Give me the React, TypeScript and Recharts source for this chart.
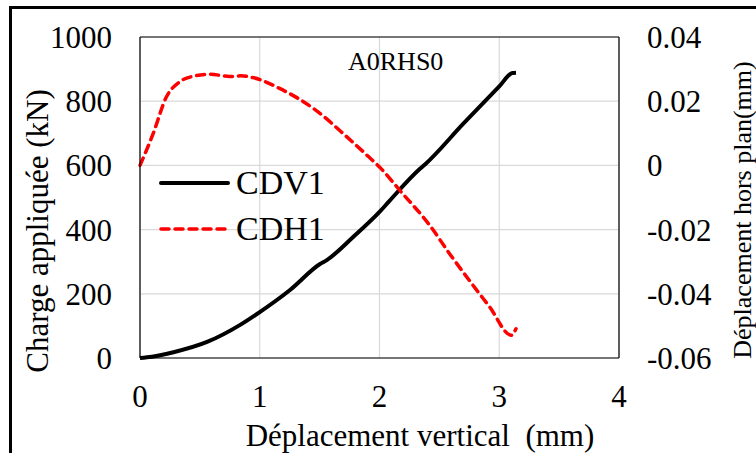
import {
  LineChart,
  Line,
  XAxis,
  YAxis,
  CartesianGrid,
  Legend,
  Label,
  ReferenceLine,
} from "recharts";

const FONT = "Liberation Serif, Times New Roman, Times, serif";

// CDV1 : charge appliquée (kN) vs déplacement vertical (mm)
const cdv1X = [0, 0.1, 0.28, 0.56, 0.84, 1.0, 1.25, 1.5, 1.56, 1.78, 2.0, 2.08, 2.34, 2.38, 2.7, 3.0, 3.11, 3.14];
const cdv1Y = [0, 4, 18, 50, 104, 143, 211, 292, 305, 377, 455, 488, 590, 603, 730, 846, 888, 889];

// CDH1 : déplacement hors plan (mm), axe de droite
const cdh1X = [0, 0.11, 0.22, 0.33, 0.45, 0.585, 0.75, 0.84, 0.95, 1.17, 1.45, 1.73, 1.9, 2.0, 2.17, 2.42, 2.585, 2.78, 2.92, 3.1, 3.14];
const cdh1Y = [0, 0.0099, 0.0213, 0.026, 0.0278, 0.0284, 0.0277, 0.0279, 0.0273, 0.0239, 0.0177, 0.0088, 0.003, -0.0005, -0.0078, -0.0187, -0.0275, -0.0373, -0.0441, -0.0529, -0.0509];

const xTicks = [0, 1, 2, 3, 4];
const leftTicks = [0, 200, 400, 600, 800, 1000];
const rightTicks = [-0.06, -0.04, -0.02, 0, 0.02, 0.04];

const cdv1 = cdv1X.map((x, i) => ({ x, charge: cdv1Y[i] }));
const cdh1 = cdh1X.map((x, i) => ({ x, hors: cdh1Y[i] }));

const tickStyle = { fontSize: 31, fill: "#000", fontFamily: FONT };

function LegendBox() {
  const items = [
    { name: "CDV1", color: "#000", dash: undefined, w: 4 },
    { name: "CDH1", color: "#ff0000", dash: "8 6", w: 3.5 },
  ];
  return (
    <div style={{ fontFamily: FONT, fontSize: 34, color: "#000" }}>
      {items.map((it) => (
        <div key={it.name} style={{ display: "flex", alignItems: "center", height: 46 }}>
          <svg width={76} height={12} style={{ marginRight: 2 }}>
            <line
              x1={3}
              x2={70}
              y1={6}
              y2={6}
              stroke={it.color}
              strokeWidth={it.w}
              strokeDasharray={it.dash}
              strokeLinecap="round"
            />
          </svg>
          <span>{it.name}</span>
        </div>
      ))}
    </div>
  );
}

export default function App() {
  return (
    <div style={{ position: "absolute", left: 0, top: 0, width: 756, height: 453, background: "#fff", overflow: "hidden", fontFamily: FONT }}>
      <div
        style={{
          position: "absolute",
          left: 9,
          top: 6,
          width: 760,
          height: 460,
          borderTop: "3px solid #000",
          borderLeft: "3px solid #000",
        }}
      />
      <LineChart
        width={756}
        height={453}
        margin={{ top: 37, right: 47, bottom: 45, left: 40 }}
        style={{ position: "absolute", left: 0, top: 0, fontFamily: FONT }}
      >
        <CartesianGrid yAxisId="left" stroke="#d9d9d9" strokeWidth={1.2} />
        <XAxis
          dataKey="x"
          type="number"
          domain={[0, 4]}
          ticks={xTicks}
          allowDuplicatedCategory={false}
          tick={tickStyle}
          tickLine={false}
          tickSize={0}
          tickMargin={27}
          axisLine={{ stroke: "#000", strokeWidth: 1.2 }}
          height={50}
        >
          <Label
            content={() => (
              <text x={420} y={446} textAnchor="middle" fontSize={31} fontFamily={FONT} fill="#000">
                {"Déplacement vertical \u00a0(mm)"}
              </text>
            )}
          />
        </XAxis>
        <YAxis
          yAxisId="left"
          domain={[0, 1000]}
          ticks={leftTicks}
          tick={tickStyle}
          tickLine={false}
          tickSize={0}
          tickMargin={28}
          axisLine={{ stroke: "#000", strokeWidth: 1.2 }}
          width={100}
        >
          <Label
            content={() => (
              <text
                x={37}
                y={231}
                textAnchor="middle"
                dominantBaseline="central"
                fontSize={31}
                fontFamily={FONT}
                fill="#000"
                transform="rotate(-90 37 231)"
              >
                Charge appliquée (kN)
              </text>
            )}
          />
        </YAxis>
        <YAxis
          yAxisId="right"
          orientation="right"
          domain={[-0.06, 0.04]}
          ticks={rightTicks}
          tickFormatter={(v: number) => String(v)}
          tick={tickStyle}
          tickLine={false}
          tickSize={0}
          tickMargin={28}
          axisLine={{ stroke: "#000", strokeWidth: 1.2 }}
          width={90}
        >
          <Label
            content={() => (
              <text
                x={742}
                y={210}
                textAnchor="middle"
                dominantBaseline="central"
                fontSize={26}
                fontFamily={FONT}
                fill="#000"
                transform="rotate(-90 742 210)"
              >
                Déplacement hors plan(mm)
              </text>
            )}
          />
        </YAxis>
        <ReferenceLine yAxisId="left" y={1000} stroke="#000" strokeWidth={1.2} />
        <Legend
          layout="horizontal"
          verticalAlign="middle"
          align="center"
          content={() => <LegendBox />}
          wrapperStyle={{ left: 158, top: 160, width: 220 }}
        />
        <Line
          yAxisId="left"
          data={cdv1}
          dataKey="charge"
          name="CDV1"
          type="monotone"
          stroke="#000"
          strokeWidth={4}
          dot={false}
          isAnimationActive={false}
        />
        <Line
          yAxisId="right"
          data={cdh1}
          dataKey="hors"
          name="CDH1"
          type="monotone"
          stroke="#ff0000"
          strokeWidth={3.5}
          strokeDasharray="8 6"
          strokeLinecap="round"
          dot={false}
          isAnimationActive={false}
        />
      </LineChart>
      <div
        style={{
          position: "absolute",
          left: 348,
          top: 47,
          fontSize: 26,
          color: "#000",
          lineHeight: "30px",
        }}
      >
        A0RHS0
      </div>
    </div>
  );
}
